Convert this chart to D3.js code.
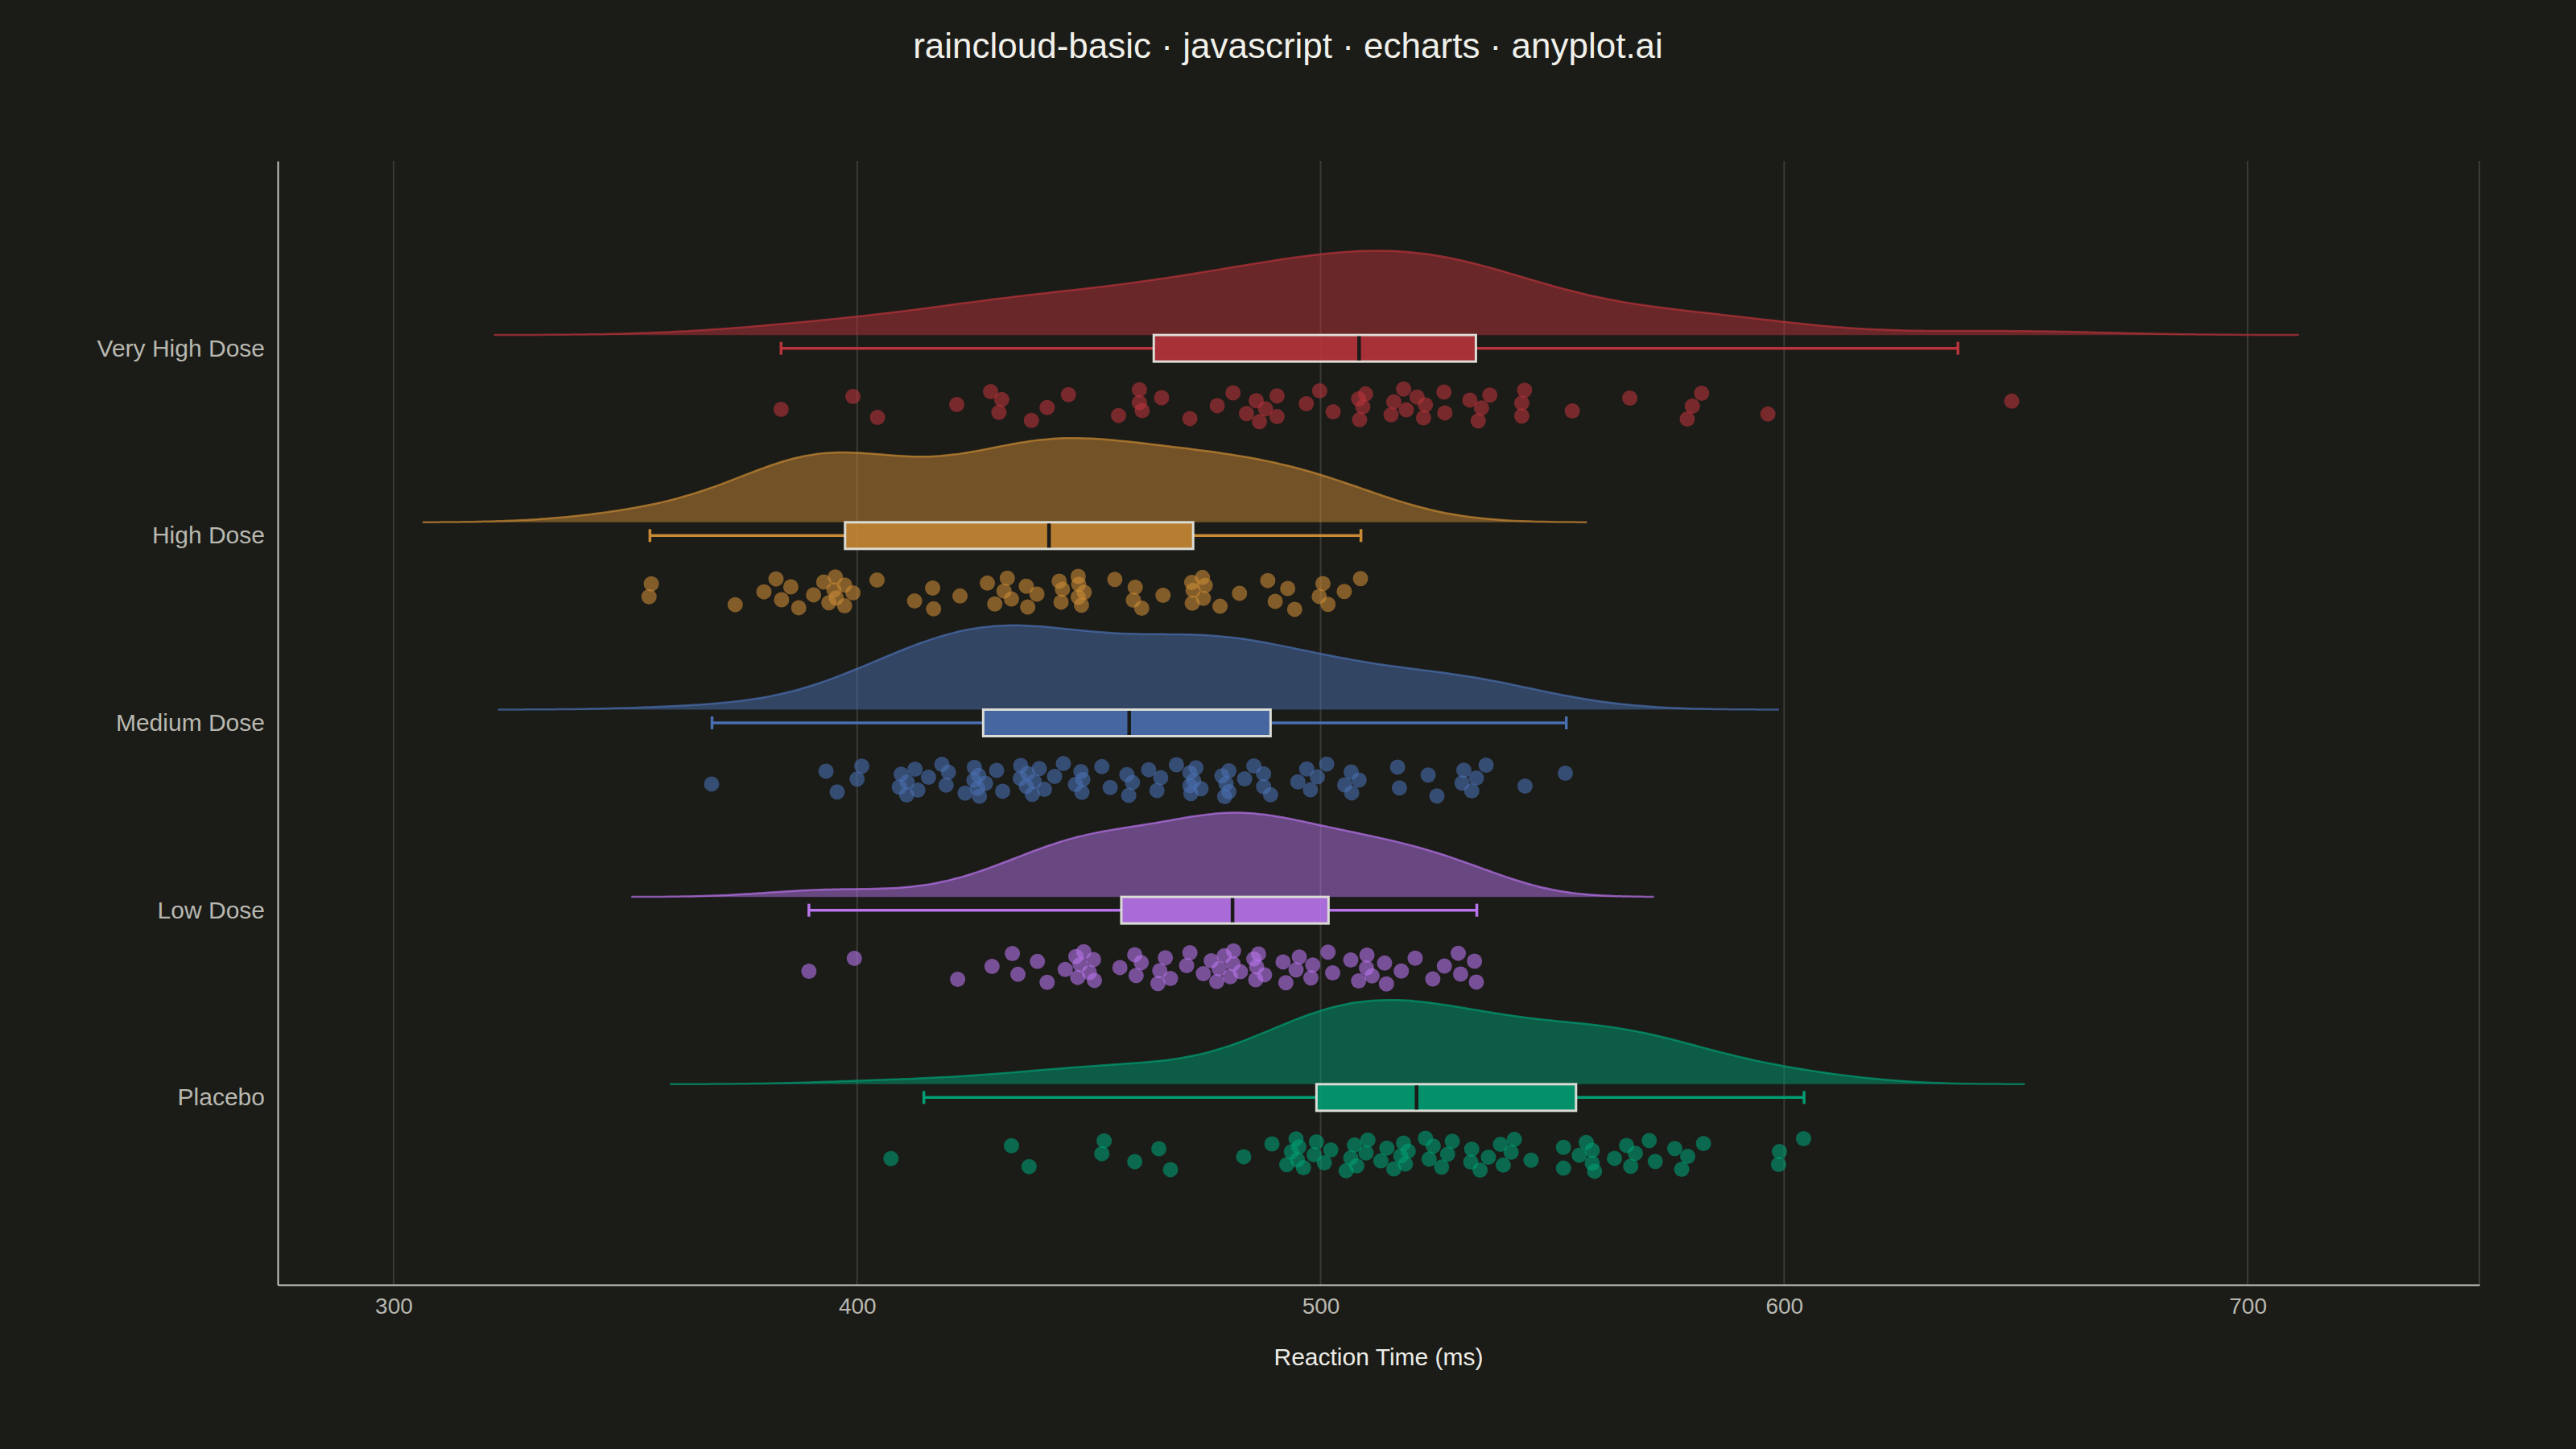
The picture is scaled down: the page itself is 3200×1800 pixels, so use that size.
<!DOCTYPE html>
<html>
<head>
<meta charset="utf-8">
<script src="https://cdn.jsdelivr.net/npm/d3@7"></script>
<style>
  html, body { margin: 0; padding: 0; background: #1b1b17; }
  svg { display: block; font-family: "Liberation Sans", Arial, sans-serif; }
</style>
</head>
<body>
<svg id="chart" width="3200" height="1800"></svg>
<script>
// groups from bottom to top
var categories = ["Placebo", "Low Dose", "Medium Dose", "High Dose", "Very High Dose"];
var groupColors = ["#009E73", "#B874EC", "#4A6FB0", "#C98A35", "#B8333B"];
var xTicks = [300, 400, 500, 600, 700];

// reaction times (ms)
var placebo = [407.3, 433.3, 437.1, 452.8, 453.3, 459.9, 465.1, 467.6, 483.4, 489.5, 492.7, 493.7, 494.7, 495.0, 495.3, 496.3, 498.6, 499.1, 500.8, 502.2, 505.5, 506.5, 507.3, 507.8, 509.8, 510.2, 513.0, 514.3, 515.8, 517.3, 517.9, 518.3, 518.9, 522.6, 523.4, 524.3, 526.1, 527.4, 528.4, 532.4, 532.6, 534.4, 536.2, 538.8, 539.4, 541.1, 541.8, 545.4, 552.4, 552.4, 555.8, 557.3, 558.6, 558.6, 559.1, 563.4, 566.0, 566.9, 567.9, 570.9, 572.2, 576.4, 577.9, 579.2, 582.6, 598.8, 599.0, 604.2];
var lowDose = [389.6, 399.4, 421.7, 429.1, 433.5, 434.7, 438.9, 441.0, 444.9, 447.2, 447.6, 448.1, 448.9, 450.1, 451.0, 451.2, 456.7, 459.9, 460.2, 461.3, 464.9, 465.3, 466.5, 467.6, 471.1, 471.8, 474.7, 476.4, 477.6, 478.1, 479.2, 480.5, 481.1, 481.2, 482.7, 485.6, 486.0, 486.2, 486.6, 487.9, 491.9, 492.5, 494.7, 495.4, 497.9, 498.3, 501.6, 502.6, 506.5, 508.2, 509.9, 510.0, 511.1, 513.8, 514.2, 517.4, 520.4, 524.2, 526.7, 529.7, 530.2, 533.2, 533.6];
var mediumDose = [368.6, 393.3, 395.7, 400.0, 401.0, 409.1, 409.5, 410.7, 410.8, 412.5, 413.1, 415.4, 418.3, 419.2, 419.7, 423.3, 425.2, 425.3, 426.0, 426.2, 426.4, 427.7, 430.1, 431.4, 435.2, 435.3, 436.5, 436.8, 437.8, 438.2, 439.3, 440.4, 442.6, 444.5, 447.1, 448.3, 448.5, 448.7, 452.8, 454.6, 458.2, 458.6, 459.4, 462.9, 464.7, 465.5, 468.9, 471.8, 471.8, 472.0, 472.6, 473.1, 474.2, 478.7, 479.3, 479.6, 480.2, 480.2, 483.6, 485.6, 487.7, 487.7, 489.2, 495.1, 497.0, 497.8, 499.3, 501.3, 505.2, 506.6, 506.7, 508.3, 516.6, 517.0, 523.2, 525.1, 530.5, 530.9, 532.6, 533.6, 535.7, 544.1, 552.8];
var highDose = [355.1, 355.6, 373.7, 379.9, 382.5, 383.7, 385.7, 387.4, 390.6, 392.8, 393.9, 395.0, 395.3, 395.5, 397.3, 397.3, 399.1, 404.3, 412.4, 416.3, 416.5, 422.2, 428.1, 429.7, 431.7, 432.4, 433.3, 436.5, 436.8, 438.8, 443.6, 444.0, 444.3, 447.7, 447.7, 447.8, 448.4, 449.0, 455.6, 459.6, 460.0, 461.4, 466.0, 472.2, 472.3, 472.5, 474.5, 474.7, 475.1, 478.3, 482.5, 488.6, 490.2, 492.9, 494.4, 499.7, 500.5, 501.6, 505.1, 508.6];
var veryHighDose = [383.6, 399.1, 404.4, 421.5, 428.8, 430.6, 431.2, 437.6, 441.0, 445.6, 456.4, 460.9, 460.9, 461.5, 465.7, 471.8, 477.7, 481.1, 484.0, 486.1, 486.8, 488.1, 490.6, 490.6, 496.9, 499.8, 502.7, 508.2, 508.4, 509.1, 509.7, 515.2, 515.8, 517.9, 518.5, 520.8, 522.2, 522.6, 526.6, 526.8, 532.2, 534.0, 534.7, 536.5, 543.4, 543.4, 544.0, 554.3, 566.7, 579.1, 580.2, 582.2, 596.5, 649.1];

// box plot summaries (same order as categories)
var whiskerLow  = [414.4, 389.6, 368.7, 355.3, 383.6];
var q1          = [499.1, 457.0, 427.2, 397.4, 464.0];
var medians     = [520.7, 481.0, 458.7, 441.4, 508.3];
var q3          = [555.1, 501.7, 489.2, 472.5, 533.5];
var whiskerHigh = [604.3, 533.7, 553.0, 508.7, 637.5];

var seriesData = [placebo, lowDose, mediumDose, highDose, veryHighDose];

var chartWidth = 3200, chartHeight = 1800;
var plotLeft = 345, plotRight = 3080, plotTop = 200, plotBottom = 1596;
var bg = "#1b1b17";

var svg = d3.select("#chart");
svg.append("rect").attr("width", chartWidth).attr("height", chartHeight).attr("fill", bg);

var x = d3.scaleLinear().domain([275, 750]).range([plotLeft, plotRight]);
var y = d3.scaleLinear().domain([0, 6]).range([plotBottom, plotTop]);
var slot = y(0) - y(1);

// grid lines
svg.append("g").selectAll("line")
	.data(xTicks.concat([750]))
	.enter().append("line")
	.attr("x1", function(d){ return x(d);})
	.attr("x2", function(d){ return x(d);})
	.attr("y1", plotTop)
	.attr("y2", plotBottom)
	.attr("stroke", "#3a3a36")
	.attr("stroke-width", 2);

// kernel density helpers
function silverman(vals)
{
	var sd = d3.deviation(vals);
	var iqr = d3.quantile(vals, 0.75) - d3.quantile(vals, 0.25);
	return 0.9 * Math.min(sd, iqr / 1.34) * Math.pow(vals.length, -0.2);
}
function kde(vals, bw, steps)
{
	var lo = d3.min(vals) - 3 * bw, hi = d3.max(vals) + 3 * bw;
	var out = [];
	for (var i = 0; i <= steps; i++)
	{
		var t = lo + (hi - lo) * i / steps;
		var s = 0;
		vals.forEach(function(v){
			var u = (t - v) / bw;
			s += Math.exp(-0.5 * u * u);
		});
		out.push([t, s / (vals.length * bw * Math.sqrt(2 * Math.PI))]);
	}
	return out;
}

var boxHalf = 16.5;
var cloudHeight = 0.45 * slot;

var groups = svg.append("g").selectAll("g")
	.data(categories)
	.enter().append("g")
	.attr("class", "rain-group");

groups.each(function(name, i)
{
	var g = d3.select(this);
	var vals = seriesData[i].slice().sort(d3.ascending);
	var color = groupColors[i];
	var cy = y(i + 1);
	var base = cy - boxHalf;

	// half violin (cloud)
	var dens = kde(vals, silverman(vals), 160);
	var maxD = d3.max(dens, function(d){ return d[1];});
	var area = d3.area()
		.x(function(d){ return x(d[0]);})
		.y0(base)
		.y1(function(d){ return base - cloudHeight * d[1] / maxD;})
		.curve(d3.curveBasis);
	var line = d3.line()
		.x(function(d){ return x(d[0]);})
		.y(function(d){ return base - cloudHeight * d[1] / maxD;})
		.curve(d3.curveBasis);
	g.append("path")
		.attr("d", area(dens))
		.attr("fill", color)
		.attr("fill-opacity", 0.5);
	g.append("path")
		.attr("d", line(dens))
		.attr("fill", "none")
		.attr("stroke", color)
		.attr("stroke-opacity", 0.7)
		.attr("stroke-width", 2.5);

	// whiskers
	g.append("line")
		.attr("x1", x(whiskerLow[i])).attr("x2", x(q1[i]))
		.attr("y1", cy).attr("y2", cy)
		.attr("stroke", color).attr("stroke-width", 3.5);
	g.append("line")
		.attr("x1", x(q3[i])).attr("x2", x(whiskerHigh[i]))
		.attr("y1", cy).attr("y2", cy)
		.attr("stroke", color).attr("stroke-width", 3.5);
	[whiskerLow[i], whiskerHigh[i]].forEach(function(w){
		g.append("line")
			.attr("x1", x(w)).attr("x2", x(w))
			.attr("y1", cy - 8).attr("y2", cy + 8)
			.attr("stroke", color).attr("stroke-width", 3.5);
	});

	// box
	g.append("rect")
		.attr("x", x(q1[i]))
		.attr("y", cy - boxHalf)
		.attr("width", x(q3[i]) - x(q1[i]))
		.attr("height", 2 * boxHalf)
		.attr("fill", color)
		.attr("fill-opacity", 0.9)
		.attr("stroke", "#dcdcd6")
		.attr("stroke-width", 3);
	g.append("line")
		.attr("x1", x(medians[i])).attr("x2", x(medians[i]))
		.attr("y1", cy - boxHalf + 1.5).attr("y2", cy + boxHalf - 1.5)
		.attr("stroke", bg).attr("stroke-width", 4.5);

	// rain (jittered points, golden-ratio spread)
	g.selectAll("circle")
		.data(seriesData[i])
		.enter().append("circle")
		.attr("cx", function(d){ return x(d);})
		.attr("cy", function(d, k){
			var f = ((k + 1) * 0.6180339887) % 1;
			return cy + slot * (0.215 + 0.18 * f);
		})
		.attr("r", 9.5)
		.attr("fill", color)
		.attr("fill-opacity", 0.6);
});

// axes
var xAxis = svg.append("g")
	.attr("transform", "translate(0," + plotBottom + ")")
	.call(d3.axisBottom(x).tickValues(xTicks).tickSize(0).tickPadding(16));
xAxis.select(".domain").attr("stroke", "#c8c8c0").attr("stroke-width", 2);
xAxis.selectAll("text")
	.attr("fill", "#b8b8b0")
	.style("font-size", "28px")
	.style("font-family", "'Liberation Sans', Arial, sans-serif");

var yAxis = svg.append("g")
	.attr("transform", "translate(" + plotLeft + ",0)")
	.call(d3.axisLeft(y).tickValues([1, 2, 3, 4, 5])
		.tickFormat(function(d){ return categories[d - 1];})
		.tickSize(0).tickPadding(16));
yAxis.select(".domain").attr("stroke", "#c8c8c0").attr("stroke-width", 2);
yAxis.selectAll("text")
	.attr("fill", "#b8b8b0")
	.style("font-size", "30px")
	.style("font-family", "'Liberation Sans', Arial, sans-serif");

svg.append("text")
	.attr("x", (plotLeft + plotRight) / 2)
	.attr("y", 1688)
	.attr("text-anchor", "middle")
	.attr("dominant-baseline", "middle")
	.attr("fill", "#ecece6")
	.style("font-size", "30px")
	.text("Reaction Time (ms)");

svg.append("text")
	.attr("x", chartWidth / 2)
	.attr("y", 60)
	.attr("text-anchor", "middle")
	.attr("dominant-baseline", "middle")
	.attr("fill", "#f0f0ea")
	.style("font-size", "44px")
	.text("raincloud-basic \u00b7 javascript \u00b7 echarts \u00b7 anyplot.ai");
</script>
</body>
</html>
